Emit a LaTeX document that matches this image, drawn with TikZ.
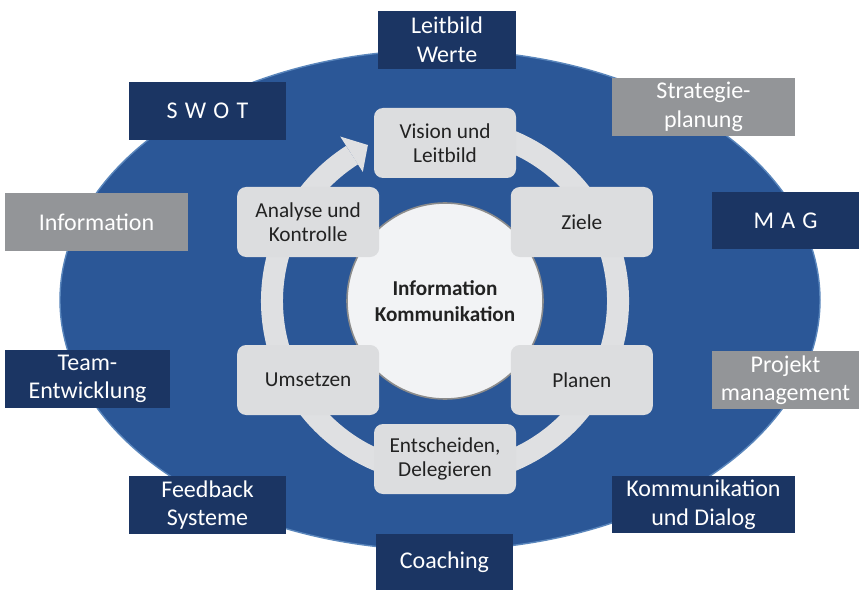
\documentclass[tikz,border=0pt]{standalone}
\usepackage{fontspec}
\setmainfont{Carlito}
\definecolor{ellblue}{HTML}{2B5797}
\definecolor{elledge}{HTML}{5A86BC}
\definecolor{navy}{HTML}{1B3563}
\definecolor{greybox}{HTML}{939598}
\definecolor{lightbox}{HTML}{DCDDDF}
\definecolor{ringcol}{HTML}{DFE0E2}
\definecolor{hubfill}{HTML}{F2F3F5}
\definecolor{hubedge}{HTML}{8C8C8C}
\definecolor{ink}{HTML}{222222}
\tikzset{
  outerbox/.style={inner sep=0pt, align=center, text=white,
    font=\fontsize{24}{28.5}\selectfont},
  darkbox/.style={outerbox, fill=navy},
  greybx/.style={outerbox, fill=greybox},
  stepbox/.style={rounded corners=9pt, fill=lightbox, inner sep=0pt,
    minimum width=142pt, minimum height=70pt, align=center, text=ink,
    font=\fontsize{21.3}{24}\selectfont},
  hub/.style={circle, fill=hubfill, draw=hubedge, line width=1.6pt,
    minimum size=196pt, inner sep=0pt, align=center, text=ink,
    font=\fontsize{21.2}{26}\selectfont\bfseries},
}
\begin{document}
\begin{tikzpicture}[x=1pt, y=1pt]
\useasboundingbox (0,0) rectangle (859,590);
\fill[white] (0,0) rectangle (859,590);

% outer ellipse
\fill[ellblue] (440,290) ellipse [x radius=380, y radius=250];
\draw[elledge, line width=1.4pt] (440,290) ellipse [x radius=380, y radius=250];

% cycle ring with arrowhead
\begin{scope}[shift={(445,289)}]
  \draw[ringcol, line width=22pt] (112:173) arc[start angle=112, end angle=-237.5, radius=173];
  \fill[ringcol] (122.5:153) -- (122.5:195) -- (116.3:174) -- cycle;
\end{scope}

% central hub
\node[hub] (hub) at (445,289) {Information\\Kommunikation};

% process steps
\begin{scope}[shift={(445,289)}]
  \node[stepbox] (vision)  at (90:158)  {Vision und\\Leitbild};
  \node[stepbox] (ziele)   at (30:158)  {Ziele};
  \node[stepbox] (planen)  at (-30:158) {Planen};
  \node[stepbox] (entsch)  at (-90:158) {Entscheiden,\\Delegieren};
  \node[stepbox] (umsetz)  at (-150:158) {Umsetzen};
  \node[stepbox] (analyse) at (150:158) {Analyse und\\Kontrolle};
\end{scope}

% surrounding topics
\node[darkbox, minimum width=138pt, minimum height=58pt] (leitbild) at (447,550) {Leitbild\\Werte};
\node[darkbox, minimum width=157pt, minimum height=58pt] (swot) at (207.5,479) {{\spaceskip=0.3em S W O T}};
\node[greybx, minimum width=183pt, minimum height=58pt] (info) at (96.5,368) {Information};
\node[greybx, minimum width=183pt, minimum height=58pt] (strat) at (703.5,483) {Strategie-\\planung};
\node[darkbox, minimum width=147pt, minimum height=57pt] (mag) at (785.5,369.5) {{\spaceskip=0.3em M A G}};
\node[greybx, minimum width=147pt, minimum height=58pt] (projekt) at (785.5,210) {Projekt\\management};
\node[darkbox, minimum width=183pt, minimum height=57pt] (kommu) at (703.5,85.5) {Kommunikation\\und Dialog};
\node[darkbox, minimum width=137pt, minimum height=56pt] (coach) at (444.5,28) {Coaching};
\node[darkbox, minimum width=157pt, minimum height=58pt] (feedback) at (207.5,85) {Feedback\\Systeme};
\node[darkbox, minimum width=165pt, minimum height=58pt] (team) at (87.5,211) {Team-\\Entwicklung};
\end{tikzpicture}
\end{document}
